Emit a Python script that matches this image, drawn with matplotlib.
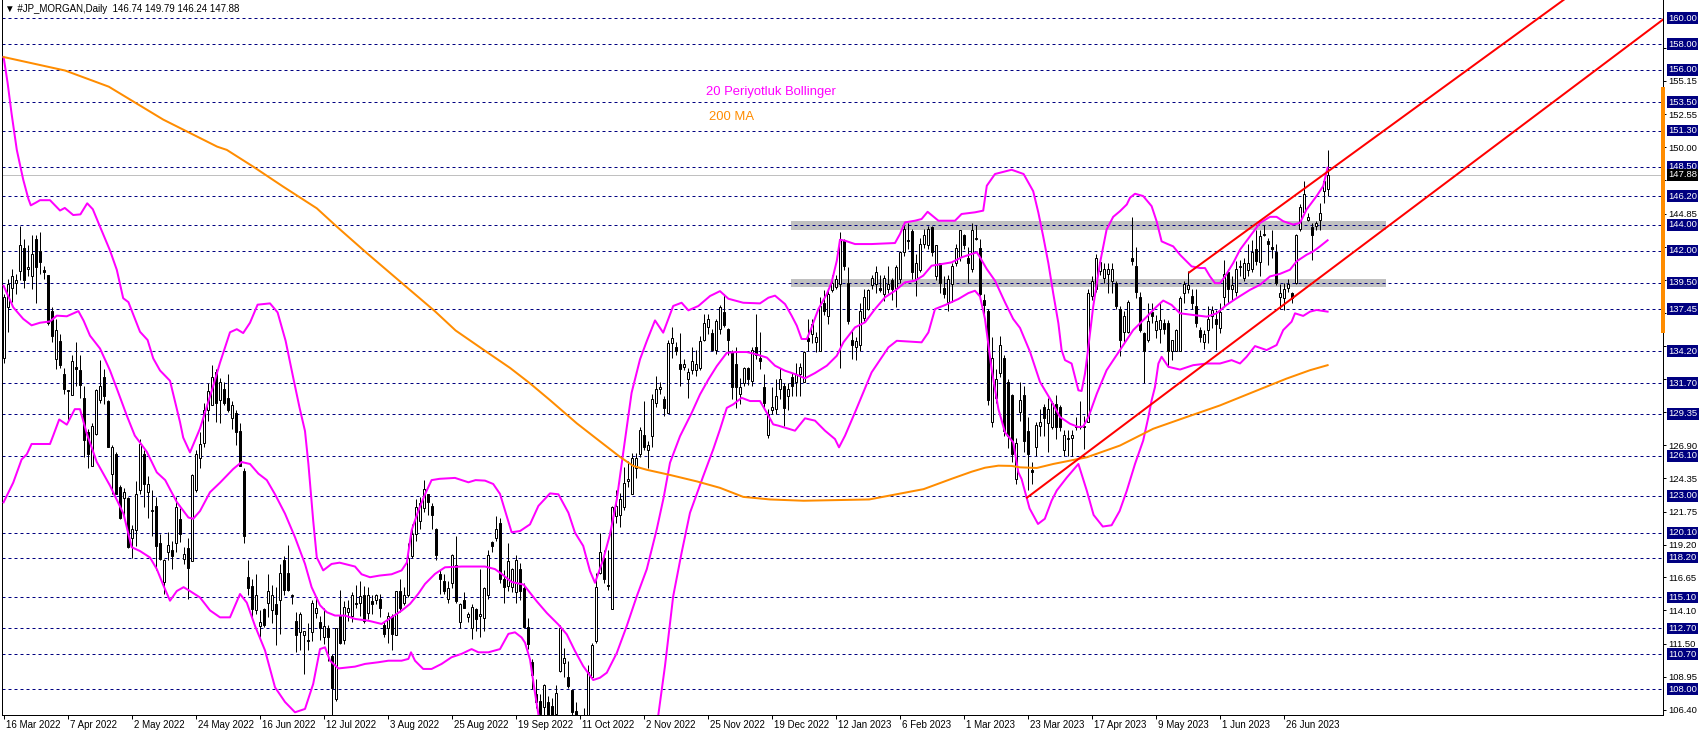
import matplotlib
matplotlib.use('Agg')
import matplotlib.pyplot as plt
import matplotlib.transforms as mtransforms
import numpy as np

plt.rcParams['font.family'] = ['Liberation Sans', 'DejaVu Sans']

# daily candles, bar 0 = 16 Mar 2022
opens = [
    133.7, 137.6, 139.1, 139.5, 140.4, 142.2, 140.6, 140.0, 142.9, 142.0,
    140.5, 140.1, 137.3, 133.6, 135.0, 132.4, 131.1, 130.8, 133.0, 132.7,
    130.6, 127.9, 125.3, 127.8, 130.4, 132.2, 130.3, 124.7, 126.2, 123.7,
    122.8, 122.8, 119.7, 120.3, 123.4, 126.2, 123.3, 121.8, 122.2, 119.3,
    116.3, 118.6, 118.8, 119.3, 121.2, 118.1, 118.9, 117.9, 123.4, 125.9,
    127.1, 129.6, 130.0, 132.6, 130.4, 131.3, 130.6, 129.0, 129.4, 128.0,
    124.9, 116.7, 116.0, 114.1, 112.9, 114.2, 114.7, 114.1, 114.6, 114.9,
    118.0, 117.0, 115.2, 113.3, 112.4, 112.2, 111.8, 112.4, 113.9, 113.2,
    112.0, 112.7, 110.6, 107.2, 113.7, 111.8, 114.0, 113.7, 114.6, 114.7,
    115.3, 113.9, 114.8, 114.9, 115.0, 113.0, 112.7, 113.7, 112.2, 115.6,
    114.7, 115.3, 118.3, 120.0, 121.0, 122.0, 123.1, 122.2, 120.4, 116.9,
    116.4, 115.0, 116.2, 117.6, 113.2, 114.9, 113.6, 112.7, 114.2, 113.7,
    113.5, 115.3, 119.4, 119.7, 120.9, 116.5, 116.0, 115.9, 115.5, 117.3,
    115.8, 112.8, 110.1, 107.6, 107.1, 106.6, 107.0, 106.7, 106.1, 109.4,
    110.0, 108.9, 107.9, 106.3, 105.2, 104.6, 106.0, 108.9, 111.7, 117.0,
    118.2, 116.1, 114.2, 121.4, 121.5, 122.1, 124.1, 123.1, 125.1, 126.2,
    127.7, 126.5, 127.6, 130.2, 131.3, 130.5, 129.4, 134.8, 134.5, 133.2,
    133.0, 132.0, 132.7, 132.7, 132.9, 135.1, 136.1, 135.6, 134.3, 135.9,
    137.2, 135.9, 134.1, 133.2, 130.9, 131.7, 132.9, 131.9, 134.5, 133.7,
    131.4, 127.7, 129.6, 129.7, 131.3, 131.5, 130.7, 132.2, 131.8, 132.4,
    131.8, 135.2, 135.5, 134.9, 134.2, 137.9, 136.9, 138.9, 139.2, 139.4,
    142.8, 139.5, 135.1, 134.5, 134.7, 136.8, 137.5, 139.3, 139.4, 139.1,
    138.6, 139.0, 139.7, 139.1, 139.8, 141.9, 142.8, 143.5, 139.8, 140.5,
    142.5, 142.4, 143.8, 140.0, 141.0, 139.1, 138.0, 139.4, 141.0, 141.5,
    143.2, 141.4, 140.6, 142.9, 142.2, 138.2, 137.3, 128.7, 130.6, 132.5,
    133.7, 131.8, 130.8, 124.3, 129.5, 130.8, 128.0, 125.0, 126.8, 128.4,
    129.9, 128.6, 128.3, 130.1, 129.9, 126.5, 127.4, 127.5, 128.3, 128.3,
    128.3, 128.7, 138.5, 139.0, 140.4, 139.9, 140.2, 139.6, 139.5, 137.5,
    135.7, 135.7, 141.4, 140.8, 138.4, 135.6, 135.1, 137.2, 135.8, 135.9,
    136.4, 136.4, 134.2, 134.2, 134.2, 138.7, 139.0, 138.5, 137.7, 135.8,
    134.9, 135.8, 136.9, 136.7, 136.0, 138.4, 140.3, 139.0, 138.8, 140.7,
    139.9, 140.5, 140.6, 142.1, 141.1, 143.2, 142.7, 142.3, 141.9, 138.4,
    138.3, 139.1, 138.7, 139.5, 143.7, 145.0, 144.4, 143.8, 143.9, 144.4,
    146.6, 146.74]
highs = [
    138.6, 139.8, 140.6, 140.2, 143.9, 142.9, 142.4, 143.2, 143.2, 143.4,
    140.8, 140.1, 137.6, 136.7, 135.5, 132.9, 131.2, 133.9, 134.9, 133.9,
    131.5, 128.2, 128.6, 131.3, 133.5, 132.8, 130.4, 126.9, 126.4, 123.8,
    123.6, 122.9, 120.7, 124.1, 127.4, 126.5, 124.5, 123.4, 122.9, 120.0,
    118.1, 120.2, 119.5, 122.9, 122.0, 119.0, 119.7, 124.7, 126.5, 127.9,
    130.2, 131.7, 133.1, 132.8, 132.1, 131.8, 132.4, 130.3, 129.6, 128.6,
    125.1, 118.0, 116.5, 116.9, 114.1, 114.3, 116.9, 116.1, 115.9, 117.7,
    118.3, 119.2, 115.4, 114.0, 114.0, 112.5, 113.1, 114.9, 115.1, 113.7,
    114.3, 113.0, 110.7, 112.7, 115.7, 114.8, 114.9, 115.5, 116.1, 116.4,
    116.0, 115.9, 115.3, 115.4, 115.4, 113.3, 114.0, 113.8, 115.6, 116.5,
    115.9, 119.3, 120.8, 122.7, 122.9, 124.2, 123.1, 122.4, 120.5, 117.2,
    116.9, 116.4, 118.5, 119.9, 114.7, 115.5, 114.0, 114.6, 114.3, 117.3,
    115.9, 118.8, 119.5, 121.4, 121.3, 117.2, 119.3, 117.4, 118.4, 117.8,
    116.2, 113.5, 110.3, 108.8, 107.6, 108.4, 107.5, 107.3, 108.3, 113.0,
    111.2, 110.2, 108.0, 107.0, 105.9, 106.5, 109.9, 111.6, 117.0, 120.1,
    118.8, 118.8, 122.2, 123.4, 123.2, 125.2, 125.7, 126.3, 126.3, 128.3,
    130.3, 127.2, 130.9, 132.3, 131.8, 130.7, 135.1, 136.1, 134.9, 135.6,
    133.6, 132.9, 134.5, 134.3, 135.4, 137.1, 137.1, 135.9, 136.7, 137.8,
    138.6, 136.0, 134.3, 134.5, 132.1, 133.0, 133.0, 134.5, 137.1, 135.7,
    132.4, 129.7, 131.4, 132.0, 132.9, 131.7, 131.7, 132.5, 133.3, 133.3,
    134.2, 136.7, 136.7, 135.7, 138.4, 138.9, 138.9, 140.1, 140.1, 143.4,
    142.9, 140.7, 135.8, 135.3, 137.9, 139.0, 139.0, 140.1, 140.8, 140.1,
    140.1, 140.8, 139.9, 140.9, 142.0, 144.2, 144.1, 143.7, 141.7, 143.0,
    143.7, 143.9, 143.9, 142.4, 141.0, 140.0, 140.1, 141.0, 142.5, 143.6,
    143.3, 142.3, 144.1, 144.0, 142.9, 138.6, 137.5, 135.3, 132.8, 135.4,
    133.9, 132.0, 130.9, 127.5, 131.8, 131.5, 129.1, 125.6, 128.7, 129.7,
    130.1, 130.6, 130.3, 130.8, 130.0, 128.1, 128.1, 128.1, 129.1, 130.3,
    129.2, 139.0, 140.0, 141.7, 141.4, 141.0, 141.0, 141.0, 139.6, 137.7,
    137.3, 138.2, 144.6, 142.3, 138.8, 135.7, 137.9, 137.9, 137.0, 137.9,
    136.7, 136.6, 135.1, 135.9, 138.5, 139.6, 140.4, 139.0, 139.0, 136.1,
    135.8, 137.7, 137.7, 137.4, 137.9, 141.3, 140.6, 140.0, 141.2, 141.3,
    141.4, 142.5, 142.8, 143.6, 143.6, 144.0, 143.0, 143.6, 142.5, 139.4,
    139.5, 139.8, 138.8, 143.3, 145.6, 147.4, 144.9, 144.1, 144.3, 145.7,
    147.5, 149.79]
lows = [
    133.3, 135.7, 138.0, 138.6, 139.7, 139.1, 140.0, 139.0, 137.9, 140.2,
    139.8, 136.2, 134.9, 132.8, 132.9, 130.9, 128.7, 130.8, 131.5, 130.6,
    126.0, 125.1, 125.3, 127.7, 130.2, 130.1, 126.8, 123.1, 123.1, 121.2,
    121.3, 118.9, 118.2, 119.1, 123.1, 122.1, 121.3, 119.9, 117.2, 118.0,
    115.4, 118.0, 117.3, 118.6, 119.4, 117.7, 115.0, 117.9, 123.3, 125.1,
    126.8, 128.8, 130.0, 128.7, 128.6, 130.0, 129.5, 128.2, 126.9, 125.3,
    119.3, 115.3, 113.6, 113.8, 112.0, 112.8, 113.6, 113.1, 111.4, 112.3,
    115.3, 115.6, 114.6, 110.9, 111.0, 109.2, 111.0, 111.7, 113.5, 111.8,
    111.5, 110.2, 105.8, 107.1, 111.5, 111.5, 113.3, 113.2, 114.3, 113.7,
    113.1, 113.4, 113.8, 114.6, 113.6, 112.0, 111.6, 111.0, 112.2, 114.0,
    114.5, 115.1, 118.2, 119.5, 120.4, 121.7, 121.5, 120.4, 118.0, 115.4,
    115.4, 114.7, 115.8, 114.7, 112.7, 114.3, 113.2, 111.9, 112.5, 112.0,
    112.5, 115.0, 118.6, 119.5, 116.2, 114.7, 115.6, 115.5, 114.7, 114.9,
    112.7, 111.1, 108.0, 106.5, 105.2, 105.8, 105.3, 104.8, 105.6, 109.3,
    108.9, 108.1, 105.5, 104.5, 103.5, 103.8, 105.5, 108.8, 111.6, 116.9,
    116.2, 115.7, 114.2, 120.9, 120.6, 121.9, 123.7, 123.1, 124.4, 126.0,
    126.5, 125.1, 126.8, 129.9, 130.9, 129.2, 129.4, 133.7, 133.9, 131.5,
    132.7, 130.6, 132.4, 132.3, 132.7, 135.0, 135.5, 134.2, 134.0, 135.5,
    136.1, 133.9, 130.5, 129.8, 130.1, 131.5, 131.6, 131.5, 133.6, 132.8,
    129.8, 127.5, 129.3, 129.3, 130.5, 128.4, 129.6, 130.7, 130.7, 130.7,
    131.8, 134.2, 134.8, 134.1, 134.2, 137.0, 136.3, 138.8, 139.0, 132.9,
    140.5, 136.3, 133.6, 133.5, 134.2, 136.5, 137.4, 139.0, 138.7, 138.8,
    138.1, 138.7, 138.2, 137.6, 139.5, 141.6, 142.1, 139.8, 138.5, 140.3,
    142.2, 142.1, 141.6, 139.7, 138.7, 138.3, 137.3, 138.0, 140.8, 141.2,
    142.1, 139.5, 140.3, 142.8, 138.4, 137.0, 130.0, 128.3, 130.2, 132.2,
    127.6, 126.7, 125.6, 123.9, 128.8, 126.4, 123.4, 123.9, 126.1, 127.6,
    127.6, 126.4, 128.2, 127.4, 128.0, 126.1, 126.1, 126.1, 128.1, 128.2,
    126.6, 128.7, 138.2, 138.8, 140.1, 139.5, 138.7, 138.7, 137.5, 133.8,
    134.8, 135.6, 140.9, 138.3, 135.7, 131.7, 134.9, 136.4, 135.2, 134.8,
    135.5, 133.0, 133.5, 134.2, 134.2, 137.9, 138.7, 137.5, 136.1, 134.9,
    134.4, 134.8, 136.0, 134.3, 135.6, 137.7, 137.9, 138.2, 138.5, 140.0,
    139.6, 140.0, 140.3, 140.9, 140.0, 143.1, 140.9, 141.4, 139.3, 137.5,
    137.4, 138.8, 137.9, 139.4, 143.5, 144.9, 144.3, 141.3, 143.6, 143.6,
    145.7, 146.24]
closes = [
    138.4, 139.4, 140.0, 139.7, 142.4, 139.7, 140.7, 141.7, 140.7, 141.1,
    140.3, 136.4, 135.4, 135.8, 133.1, 131.3, 131.2, 133.4, 132.8, 131.6,
    127.3, 126.2, 128.4, 131.2, 131.5, 130.7, 126.8, 126.8, 123.1, 121.3,
    123.3, 119.0, 120.4, 123.1, 127.0, 123.9, 123.9, 121.9, 119.1, 118.1,
    118.0, 119.2, 118.3, 122.1, 120.0, 118.5, 117.4, 124.6, 126.2, 127.0,
    129.6, 131.1, 132.2, 130.2, 131.8, 130.2, 129.6, 130.0, 127.9, 125.3,
    119.9, 115.8, 114.2, 115.3, 113.2, 113.0, 115.6, 115.3, 113.8, 117.0,
    115.7, 115.7, 115.3, 112.2, 113.8, 112.5, 111.7, 114.7, 114.3, 112.7,
    112.9, 112.0, 108.1, 112.7, 111.6, 114.4, 114.3, 115.3, 114.7, 115.2,
    113.3, 115.3, 114.6, 115.3, 114.3, 112.3, 113.7, 112.3, 115.6, 114.3,
    115.3, 118.2, 120.0, 122.1, 122.4, 123.5, 122.5, 121.5, 118.4, 116.5,
    115.6, 115.8, 118.4, 114.8, 114.6, 114.3, 113.8, 114.4, 113.4, 113.8,
    115.8, 118.4, 119.1, 120.4, 116.5, 115.9, 117.9, 117.3, 118.0, 115.6,
    112.8, 111.5, 109.1, 107.0, 106.1, 108.3, 105.8, 105.6, 107.7, 112.7,
    110.4, 108.2, 106.2, 105.2, 104.6, 105.8, 109.3, 111.4, 115.9, 118.6,
    116.5, 116.0, 122.1, 122.2, 122.7, 124.0, 124.3, 125.9, 125.9, 128.1,
    126.8, 126.9, 130.5, 131.3, 131.4, 129.8, 134.8, 135.2, 134.2, 132.8,
    133.2, 132.6, 133.4, 133.2, 135.0, 136.4, 136.7, 134.3, 136.5, 137.6,
    136.2, 135.1, 131.4, 131.4, 131.4, 132.9, 132.0, 134.3, 133.9, 133.4,
    130.2, 129.3, 129.9, 130.7, 132.0, 129.8, 131.3, 131.5, 132.4, 133.0,
    134.1, 135.0, 136.3, 135.3, 137.7, 137.3, 138.6, 139.5, 139.8, 142.9,
    140.8, 136.5, 134.7, 135.0, 137.3, 138.4, 138.9, 139.9, 140.3, 138.9,
    139.9, 139.4, 139.0, 140.7, 141.9, 143.7, 142.7, 140.3, 141.0, 142.5,
    143.2, 143.7, 141.9, 142.4, 139.5, 138.6, 139.8, 140.8, 142.2, 143.6,
    142.4, 141.0, 143.6, 143.0, 138.6, 137.8, 130.4, 133.7, 132.0, 134.7,
    128.0, 127.6, 126.2, 127.1, 130.4, 127.2, 126.2, 124.8, 128.5, 128.7,
    129.0, 129.7, 130.2, 128.3, 128.3, 127.7, 127.5, 127.7, 128.4, 128.4,
    128.4, 138.7, 139.6, 141.4, 141.1, 140.6, 140.6, 140.6, 137.7, 135.1,
    136.9, 138.0, 141.2, 138.8, 135.8, 134.2, 136.5, 136.9, 136.5, 136.6,
    135.9, 134.2, 135.1, 135.8, 138.3, 139.4, 139.3, 137.9, 136.4, 135.3,
    135.5, 136.7, 137.4, 136.3, 137.2, 140.2, 139.0, 139.3, 140.6, 140.8,
    141.0, 141.0, 141.9, 141.2, 143.1, 143.3, 142.5, 142.1, 139.5, 138.7,
    139.0, 139.4, 138.3, 143.2, 145.4, 146.4, 144.6, 143.2, 144.1, 144.9,
    147.4, 147.88]

date_labels = ['16 Mar 2022', '7 Apr 2022', '2 May 2022', '24 May 2022', '16 Jun 2022',
               '12 Jul 2022', '3 Aug 2022', '25 Aug 2022', '19 Sep 2022', '11 Oct 2022',
               '2 Nov 2022', '25 Nov 2022', '19 Dec 2022', '12 Jan 2023', '6 Feb 2023',
               '1 Mar 2023', '23 Mar 2023', '17 Apr 2023', '9 May 2023', '1 Jun 2023',
               '26 Jun 2023']
date_bars = [0, 16, 32, 48, 64, 80, 96, 112, 128, 144, 160, 176, 192, 208, 224,
             240, 256, 272, 288, 304, 320]

# horizontal levels (dashed, boxed labels) and the plain price scale
levels = [160.00, 158.00, 156.00, 153.50, 151.30, 148.50, 146.20, 144.00, 142.00,
          139.50, 137.45, 134.20, 131.70, 129.35, 126.10, 123.00, 120.10, 118.20,
          115.10, 112.70, 110.70, 108.00]
scale_ticks = [106.40, 108.95, 111.50, 114.10, 116.65, 119.20, 121.75, 124.35, 126.90,
               129.45, 132.05, 134.60, 137.15, 139.70, 142.30, 144.85, 147.45, 150.00,
               152.55, 155.15, 157.70]
# scale labels that sit under a level box in the chart
hidden_ticks = [129.45, 132.05, 134.60, 137.15, 139.70, 142.30, 147.45, 157.70]
last_price = 147.88

# indicator lines: (bar, price)
bb_upper = [
    (0, 157.0), (1, 155.0), (2, 152.6), (3.3, 149.8), (4.9, 147.5), (6.2, 146.0),
    (6.8, 145.5), (8, 145.7), (9.1, 145.9), (11.6, 145.9), (14.1, 145.1), (15.3, 145.3),
    (17.4, 144.75), (19.2, 144.8), (20.9, 145.66), (22.3, 145.2), (24.1, 143.85),
    (26.6, 142.0), (28.3, 140.5), (29.9, 138.3), (31.2, 138.0), (34.1, 135.7),
    (36.0, 135.06), (37.4, 133.64), (39.1, 132.7), (41.6, 131.9), (44.1, 128.7),
    (44.9, 127.5), (46.6, 126.35), (49.1, 128.2), (52.4, 131.5), (54.1, 133.3),
    (56.6, 135.66), (58.3, 135.9), (59.9, 135.6), (61.6, 136.4), (63.5, 137.8),
    (66.6, 137.9), (68.5, 137.2), (70.5, 135.0), (72.5, 132.0), (74.0, 129.8),
    (75.35, 128.0), (76.2, 125.45), (77.4, 121.06), (78.3, 118.2), (79.9, 117.2),
    (82.0, 117.7), (84.0, 117.8), (87.85, 117.5), (89.5, 116.9), (91.6, 116.67),
    (94.0, 116.8), (97.0, 116.9), (99.5, 117.2), (100.8, 117.8), (102.0, 120.3),
    (103.7, 121.84), (105.35, 123.1), (107.0, 124.2), (109.0, 124.3), (112.85, 124.37),
    (116.2, 124.03), (118.0, 124.2), (120.35, 124.16), (122.4, 123.9), (124.1, 123.13),
    (125.35, 121.84), (127.0, 120.16), (129.1, 120.25), (131.6, 120.77), (133.7, 122.2),
    (136.6, 123.17), (138.7, 123.1), (141.2, 121.67), (142.85, 120.12), (144.9, 119.1),
    (146.6, 117.15), (147.85, 116.24), (149.9, 118.05), (151.6, 120.0), (153.3, 122.7),
    (154.9, 126.32), (157.0, 130.97), (159.1, 133.56), (160.8, 134.98), (162.85, 136.58),
    (164.9, 135.63), (167.4, 137.7), (169.5, 137.95), (171.2, 137.36), (173.7, 137.7),
    (176.6, 138.47), (179.1, 138.85), (181.2, 138.26), (184.9, 137.95), (189.1, 137.9),
    (191.2, 138.34), (192.85, 138.5), (195.35, 137.85), (197.0, 136.95), (198.3, 136.17),
    (199.5, 135.14), (200.8, 135.14), (202.0, 136.04), (203.7, 137.46), (205.8, 138.63),
    (207.0, 139.53), (208.3, 141.2), (209.1, 142.84), (210.35, 142.76), (212.85, 142.5),
    (217.0, 142.5), (222.85, 142.58), (224.1, 143.28), (225.35, 144.18), (227.85, 144.31),
    (229.5, 144.44), (231.0, 145.0), (233.7, 144.31), (237.85, 144.31), (239.5, 144.83),
    (242.85, 144.96), (244.9, 145.09), (245.8, 147.02), (247.85, 147.93), (250.0, 148.1),
    (252.0, 148.26), (255.0, 147.93), (257.4, 146.6), (258.7, 144.92), (259.9, 143.1),
    (261.2, 141.0), (262.4, 138.69), (263.7, 136.35), (264.5, 134.28), (265.35, 133.5),
    (267.0, 133.24), (268.7, 131.16), (269.5, 131.11), (270.35, 132.46), (271.2, 134.54),
    (272.4, 137.65), (274.1, 141.03), (275.75, 143.62), (277.4, 144.61), (279.1, 145.05),
    (280.8, 145.57), (281.6, 146.09), (282.85, 146.4), (284.9, 146.22), (287.0, 145.44),
    (288.25, 144.27), (289.5, 142.71), (290.8, 142.53), (292.4, 142.32), (294.1, 141.67),
    (295.75, 141.16), (297.0, 140.77), (299.1, 140.64), (300.35, 140.64), (301.6, 139.99),
    (302.85, 139.47), (304.1, 139.47), (305.35, 139.99), (307.4, 141.03), (309.1, 142.06),
    (311.6, 143.1), (314.1, 144.14), (316.6, 144.61), (318.25, 144.61), (319.9, 144.27),
    (322.4, 144.01), (324.1, 144.14), (325.75, 145.18), (328.25, 146.22), (329.9, 147.0),
    (331.0, 148.42)]
bb_middle = [
    (0, 139.27), (2.4, 137.6), (4.9, 136.7), (7, 136.2), (9.1, 136.4), (11.6, 136.5),
    (13.3, 136.95), (15.8, 136.9), (18.7, 137.3), (20, 136.56), (21.6, 135.4),
    (24.1, 134.4), (26.6, 132.7), (28.3, 131.3), (30.8, 129.2), (32.8, 127.65),
    (35.8, 126.4), (38.3, 124.8), (40.4, 124.2), (43.3, 122.5), (46.2, 121.3),
    (47.4, 121.2), (49.1, 121.8), (51.6, 123.26), (54.1, 124.0), (57.4, 125.06),
    (59.5, 125.6), (61.6, 125.45), (63.7, 124.7), (65.8, 124.2), (67.85, 123.1),
    (70.35, 121.6), (72.85, 119.77), (75.35, 117.7), (77, 115.9), (79.1, 114.5),
    (80.8, 113.96), (82.85, 113.7), (85.35, 113.7), (87.85, 113.44), (91.2, 113.3),
    (94.5, 113.05), (97, 113.57), (99.5, 114.08), (101.6, 114.6), (103.7, 115.4),
    (105.35, 116.15), (107.85, 116.93), (110.35, 117.44), (114.5, 117.5), (120.35, 117.5),
    (122.85, 117.3), (124.5, 116.93), (127, 116.3), (130, 116.1), (133.3, 114.8),
    (135.8, 113.9), (138.7, 113.0), (140.8, 112.24), (142.85, 110.95), (144.9, 109.78),
    (147.4, 108.7), (149.1, 108.88), (150.8, 109.27), (153.3, 110.8), (155.8, 112.9),
    (158.3, 115.2), (160.8, 117.3), (163.3, 120.4), (165, 122.83), (166.6, 125.55),
    (169.1, 127.6), (172, 129.4), (174.1, 130.84), (176.2, 132.0), (178.3, 133.04),
    (180.8, 134.07), (183.3, 134.13), (185.8, 134.13), (188.3, 133.94), (190.8, 133.7),
    (192.85, 133.07), (195.35, 132.68), (197.85, 132.42), (200.35, 132.09), (202.85, 132.5),
    (205.8, 133.07), (208.3, 133.84), (209.95, 134.88), (212.85, 136.04), (215.35, 136.43),
    (217.85, 137.46), (220.35, 138.37), (222.85, 138.88), (225.35, 139.53), (227.85, 139.66),
    (229.9, 140.05), (232, 140.82), (234.5, 140.95), (237, 141.08), (239.5, 141.47),
    (241.2, 141.65), (243.3, 141.86), (244.1, 141.47), (245.8, 140.56), (247.85, 139.66),
    (250.35, 137.98), (252.4, 136.69), (254.1, 136.0), (256.6, 134.15), (259.1, 131.81),
    (261.6, 130.51), (264.1, 129.09), (266.6, 128.57), (268.7, 128.31), (269.9, 128.36),
    (271.2, 129.09), (273.3, 130.9), (275.75, 132.72), (279.1, 134.28), (282.4, 135.83),
    (285.8, 136.87), (288.25, 137.65), (289.9, 138.12), (292, 137.78), (294.1, 137.13),
    (297.4, 137.0), (300.8, 136.87), (303.25, 137.13), (305.75, 137.78), (308.25, 138.3),
    (311.6, 138.95), (314.1, 139.34), (316.6, 139.99), (319.1, 140.19), (321.6, 140.51),
    (323.25, 141.16), (325.75, 141.67), (327.4, 141.93), (329.1, 142.32), (331.0, 142.79)]
bb_lower = [
    (0, 122.48), (2.4, 124.0), (4.5, 125.8), (5.8, 126.2), (7, 127.0), (11.6, 127.0),
    (12.4, 127.65), (13.9, 128.9), (15.8, 128.5), (17.8, 129.7), (19.1, 129.7),
    (20.8, 127.8), (23.3, 125.6), (26.6, 123.77), (30, 121.57), (32, 119.0),
    (34.1, 118.7), (36.6, 118.2), (38.3, 117.3), (40, 116.0), (41.6, 114.85),
    (43.3, 115.6), (45, 115.9), (46.6, 115.6), (49.1, 115.1), (51.6, 114.1),
    (54.1, 113.56), (56.6, 113.56), (59.1, 115.37), (60.8, 114.7), (62.85, 112.9),
    (65.35, 111.0), (67.85, 108.14), (70.35, 107.0), (72.85, 106.2), (75.35, 106.46),
    (77.4, 108.4), (79.1, 111.1), (80.35, 111.24), (81.6, 110.2), (83.7, 109.6),
    (87.85, 109.74), (90.35, 109.95), (93.7, 110.08), (96.2, 110.2), (99.5, 110.2),
    (101.2, 110.34), (101.85, 110.85), (102.85, 110.2), (104.9, 109.56), (107, 109.56),
    (109.5, 109.95), (112, 110.47), (114.5, 110.73), (117, 111.1), (118.7, 110.85),
    (121.2, 110.85), (124.1, 111.1), (126.2, 112.28), (127.85, 112.4), (129.5, 112.0),
    (130.35, 111.6), (131.6, 110.3), (132.85, 107.7), (133.7, 106.04), (135, 103.5),
    (138, 100.5), (142, 99.0), (146, 98.0), (150, 97.0), (154, 95.5), (157, 95.5),
    (160, 98.5), (162, 102.5), (163.7, 106.04), (165.35, 109.8), (167.4, 115.2),
    (169.5, 118.57), (171.6, 121.67), (174.9, 124.5), (177.4, 126.58), (179.1, 128.13),
    (180.8, 129.8), (182.4, 130.07), (184.5, 130.58), (186.6, 130.33), (189.1, 130.33),
    (190.8, 129.42), (192.4, 128.52), (193.7, 128.42), (197.85, 128.03), (200.35, 128.99),
    (202.85, 128.81), (205.35, 128.03), (207.85, 127.38), (208.85, 126.74), (210.35, 127.64),
    (212.85, 129.45), (217, 132.55), (221.2, 134.49), (223.3, 135.0), (229.5, 134.88),
    (231.2, 135.65), (232.85, 137.46), (235.35, 137.77), (238.7, 138.24), (241.2, 138.7),
    (242.85, 138.88), (244.1, 138.44), (245.35, 136.69), (247, 132.81), (248.7, 129.71),
    (250.35, 127.9), (252.4, 127.13), (253.7, 124.8), (254.5, 124.28), (256.5, 122.0),
    (258.6, 120.8), (260.3, 121.2), (262, 122.6), (263.3, 123.4), (265.8, 124.4),
    (268.7, 125.45), (270.8, 123.38), (272.5, 121.5), (274.8, 120.6), (277, 120.7),
    (279, 121.8), (280.8, 123.38), (282.85, 125.45), (284.9, 127.27), (286.2, 129.09),
    (287, 130.38), (287.85, 131.42), (288.7, 133.24), (289.5, 133.76), (291.2, 132.98),
    (294.1, 132.77), (297.4, 133.11), (300.8, 133.24), (304.1, 133.24), (307, 133.5),
    (309.1, 133.24), (310.75, 133.76), (312.85, 134.59), (315.75, 134.28), (318.25, 134.67),
    (319.9, 135.83), (322, 136.48), (322.85, 137.13), (324.9, 136.93), (326.6, 137.26),
    (328.25, 137.39), (331.0, 137.26)]
ma200 = [
    (0, 157.0), (15.4, 155.95), (26.3, 154.7), (39.9, 152.15), (53.4, 150.05),
    (55.8, 149.8), (62.4, 148.5), (69.9, 146.95), (78.3, 145.27), (83.3, 143.85),
    (90.8, 141.8), (99.1, 139.6), (107.8, 137.3), (113, 135.8), (120, 134.3),
    (126.6, 132.9), (131.6, 131.7), (136.6, 130.4), (143.3, 128.6), (149.1, 127.2),
    (154.1, 126.0), (157.4, 125.3), (160.8, 125.0), (166.6, 124.6), (173.3, 124.1),
    (179.1, 123.6), (184.9, 122.9), (191.6, 122.7), (200, 122.6), (216.4, 122.7),
    (230, 123.5), (237, 124.3), (242, 124.85), (245.35, 125.16), (248.7, 125.32),
    (252, 125.3), (254.1, 125.19), (258.3, 125.14), (262.4, 125.45), (270.8, 125.97),
    (279.1, 126.88), (287.4, 128.18), (295.75, 129.09), (304.1, 129.99), (312.4, 131.03),
    (320.75, 132.07), (326.6, 132.72), (331.0, 133.11)]

# hand drawn objects: channel anchors (bar, price) and the two grey zones
channel_low = [(255.85, 122.84), (334.1, 141.08)]
channel_high = [(296.4, 140.3), (334.1, 148.81)]
zone_bars = (196.9, 345.5)
zones = [(143.60, 144.25), (139.17, 139.78)]

W, H = 1704, 733
PX = 0.72  # one pixel in points at dpi 100
NAVY = '#000080'
MAGENTA = '#ff00ff'
ORANGE = '#ff8c00'

fig = plt.figure(figsize=(W / 100, H / 100), dpi=100)
ax = fig.add_axes([2 / W, (H - 715) / H, 1661 / W, 715 / H])
ax.set_xlim(-0.4, 414.85)
ax.set_ylim(105.99, 161.42)

for lo, hi in zones:
    ax.fill_between(zone_bars, lo, hi, color='#c0c0c0', lw=0, zorder=1)

for lvl in levels:
    ax.axhline(lvl, color=NAVY, lw=PX, ls=(0, (3, 3)), zorder=2)
ax.axhline(last_price, color='#c0c0c0', lw=PX, zorder=2)

# candles
x = np.arange(len(closes))
o = np.array(opens)
c = np.array(closes)
ax.vlines(x, lows, highs, color='black', lw=PX, zorder=3)
ax.bar(x, np.abs(c - o), 0.5, bottom=np.minimum(o, c),
       color=np.where(c >= o, 'white', 'black'), edgecolor='black', lw=PX, zorder=4)

# indicators
for pts in (bb_upper, bb_middle, bb_lower):
    bx, by = zip(*pts)
    ax.plot(bx, by, color=MAGENTA, lw=2 * PX, zorder=5)
mx, my = zip(*ma200)
ax.plot(mx, my, color=ORANGE, lw=2 * PX, zorder=5)

# channel rays, extended to the right edge of the chart
x_end = ax.get_xlim()[1]
for (x0, y0), (x1, y1) in (channel_low, channel_high):
    slope = (y1 - y0) / (x1 - x0)
    ax.plot([x0, x_end], [y0, y0 + slope * (x_end - x0)], color='#ff0000', lw=2 * PX, zorder=6)

# price scale on the right
ax.yaxis.tick_right()
ax.set_yticks(scale_ticks)
ax.set_yticklabels(['' if t in hidden_ticks else f'{t:.2f}' for t in scale_ticks])
ax.tick_params(axis='y', length=3 * PX, width=PX, pad=1.5, labelsize=6.8)

side = mtransforms.blended_transform_factory(ax.transAxes, ax.transData)
for lvl in levels:
    ax.text(1.003, lvl, f'{lvl:.2f}', transform=side, color='white', fontsize=6.8,
            va='center', ha='left', clip_on=False, zorder=10,
            bbox=dict(boxstyle='square,pad=0.15', fc=NAVY, ec='none'))
ax.text(1.003, last_price, f'{last_price:.2f}', transform=side, color='white', fontsize=6.8,
        va='center', ha='left', clip_on=False, zorder=11,
        bbox=dict(boxstyle='square,pad=0.15', fc='black', ec='none'))
ax.plot([1.0, 1.0], [135.6, 154.67], transform=side, color=ORANGE, lw=4 * PX,
        solid_capstyle='butt', clip_on=False, zorder=9)

# time scale
ax.set_xticks(date_bars)
ax.set_xticklabels(date_labels)
ax.tick_params(axis='x', length=4 * PX, width=PX, pad=0.5, labelsize=7)
shift = mtransforms.ScaledTranslation(2 / 100, 0, fig.dpi_scale_trans)
for lbl in ax.get_xticklabels():
    lbl.set_horizontalalignment('left')
    lbl.set_transform(lbl.get_transform() + shift)

ax.spines['top'].set_visible(False)
for s in ('left', 'right', 'bottom'):
    ax.spines[s].set_linewidth(PX)

fig.text(5 / W, 1 - 9 / H, '\u25bc #JP_MORGAN,Daily  146.74 149.79 146.24 147.88',
         fontsize=7, va='center', ha='left')
fig.text(706 / W, 1 - 92 / H, '20 Periyotluk Bollinger', color=MAGENTA, fontsize=9.4,
         va='center', ha='left')
fig.text(709 / W, 1 - 117 / H, '200 MA', color=ORANGE, fontsize=9.4,
         va='center', ha='left')

fig.savefig('out.png', dpi=100)
